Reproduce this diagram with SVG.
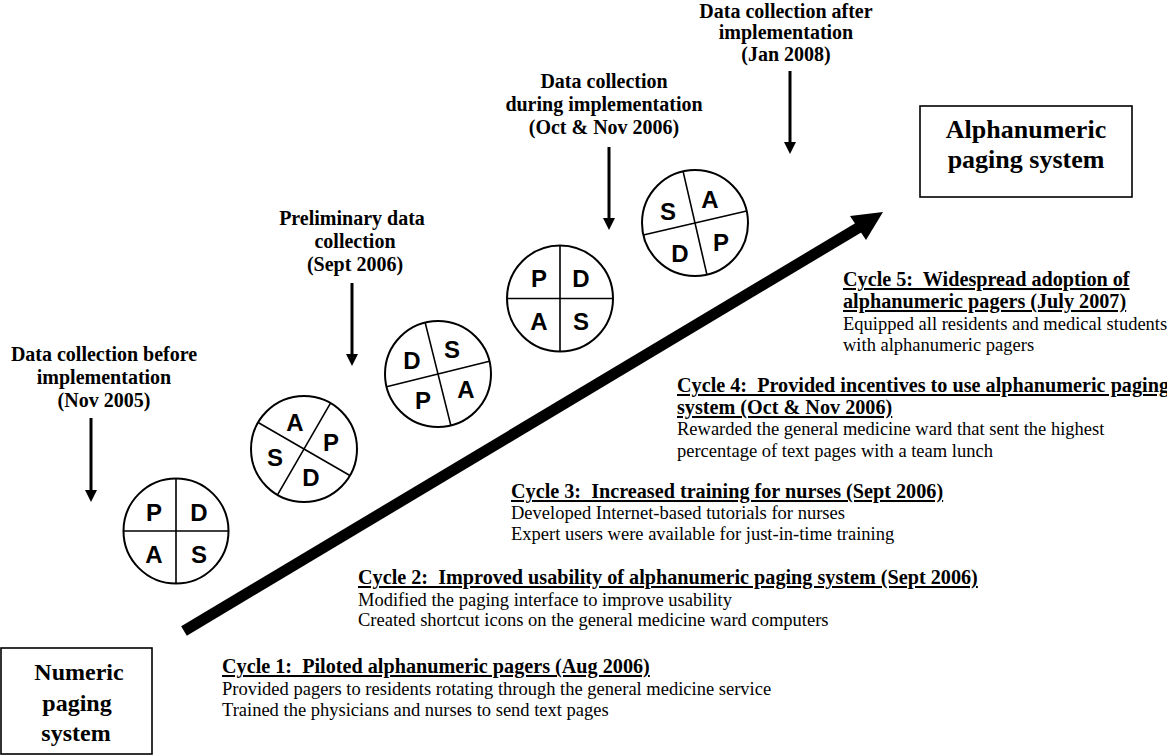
<svg xmlns="http://www.w3.org/2000/svg" width="1167" height="755" viewBox="0 0 1167 755">
<style>
.bg{fill:#fff}
.box{fill:#fff;stroke:#000;stroke-width:1.6}
.boxt{font-family:"Liberation Serif","Times New Roman",Times,serif;font-weight:bold;fill:#000;text-anchor:middle}
.lbl{font-family:"Liberation Serif","Times New Roman",Times,serif;font-weight:bold;font-size:20px;fill:#000;text-anchor:middle}
.hd{font-family:"Liberation Serif","Times New Roman",Times,serif;font-weight:bold;font-size:20.2px;fill:#000;text-decoration:underline;white-space:pre}
.bd{font-family:"Liberation Serif","Times New Roman",Times,serif;font-size:18.5px;fill:#000;white-space:pre}
.ring{fill:#fff;stroke:#000;stroke-width:2}
.cross{stroke:#000;stroke-width:1.6;fill:none}
.let{font-family:"Liberation Sans",Arial,sans-serif;font-weight:bold;font-size:24px;fill:#000;text-anchor:middle}
.down{stroke:#000;stroke-width:3;fill:none}
.main{stroke:#000;stroke-width:11;fill:none}
</style>
<defs>
<marker id="ah" markerUnits="userSpaceOnUse" markerWidth="12" markerHeight="12" refX="5" refY="6" orient="auto">
<path d="M0,0 L12,6 L0,12 Z" fill="#000"/>
</marker>
</defs>
<rect class="bg" x="0" y="0" width="1167" height="755"/>

<g id="numeric-box">
<rect class="box" x="1" y="648" width="151" height="106"/>
<text class="boxt" font-size="24" x="79" y="680">Numeric</text>
<text class="boxt" font-size="24" x="77" y="711">paging</text>
<text class="boxt" font-size="24" x="76" y="741">system</text>
</g>

<g id="alpha-box">
<rect class="box" x="920" y="106" width="212" height="91"/>
<text class="boxt" font-size="26" x="1026" y="138">Alphanumeric</text>
<text class="boxt" font-size="26" x="1026" y="168">paging system</text>
</g>

<g id="label-nov2005">
<text class="lbl" x="104" y="361">Data collection before</text>
<text class="lbl" x="104" y="384">implementation</text>
<text class="lbl" x="104" y="407">(Nov 2005)</text>
</g>
<g id="label-sept2006">
<text class="lbl" x="352" y="225">Preliminary data</text>
<text class="lbl" x="355" y="248">collection</text>
<text class="lbl" x="355" y="271">(Sept 2006)</text>
</g>
<g id="label-octnov2006">
<text class="lbl" x="604" y="88">Data collection</text>
<text class="lbl" x="604" y="111">during implementation</text>
<text class="lbl" x="604" y="134">(Oct &amp; Nov 2006)</text>
</g>
<g id="label-jan2008">
<text class="lbl" x="786" y="18">Data collection after</text>
<text class="lbl" x="786" y="39">implementation</text>
<text class="lbl" x="786" y="61">(Jan 2008)</text>
</g>

<g id="pdsa1">
<circle class="ring" cx="176" cy="531" r="52.5"/>
<g transform="translate(176,531)"><path class="cross" d="M0,-52.5 V52.5 M-52.5,0 H52.5"/></g>
<text class="let" x="154" y="521">P</text>
<text class="let" x="199" y="521">D</text>
<text class="let" x="154" y="563">A</text>
<text class="let" x="199" y="563">S</text>
</g>

<g id="pdsa2">
<circle class="ring" cx="304" cy="449" r="53"/>
<g transform="translate(304,449) rotate(30)"><path class="cross" d="M0,-53 V53 M-53,0 H53"/></g>
<text class="let" x="295" y="431">A</text>
<text class="let" x="331" y="451">P</text>
<text class="let" x="311" y="486">D</text>
<text class="let" x="275" y="466">S</text>
</g>

<g id="pdsa3">
<circle class="ring" cx="438" cy="374" r="53"/>
<g transform="translate(438,374) rotate(-14)"><path class="cross" d="M0,-53 V53 M-53,0 H53"/></g>
<text class="let" x="412" y="369">D</text>
<text class="let" x="452" y="358">S</text>
<text class="let" x="466" y="398">A</text>
<text class="let" x="423" y="409">P</text>
</g>

<g id="pdsa4">
<circle class="ring" cx="560" cy="298.5" r="53"/>
<g transform="translate(560,298.5)"><path class="cross" d="M0,-53 V53 M-53,0 H53"/></g>
<text class="let" x="539" y="287">P</text>
<text class="let" x="581" y="287">D</text>
<text class="let" x="539" y="330">A</text>
<text class="let" x="581" y="330">S</text>
</g>

<g id="pdsa5">
<circle class="ring" cx="695" cy="223" r="53"/>
<g transform="translate(695,223) rotate(-13)"><path class="cross" d="M0,-53 V53 M-53,0 H53"/></g>
<text class="let" x="668" y="220">S</text>
<text class="let" x="710" y="208">A</text>
<text class="let" x="721" y="251">P</text>
<text class="let" x="680" y="262">D</text>
</g>

<g id="cycle1">
<text class="hd" x="222" y="673">Cycle 1:  Piloted alphanumeric pagers (Aug 2006)</text>
<text class="bd" x="222" y="695">Provided pagers to residents rotating through the general medicine service</text>
<text class="bd" x="222" y="716">Trained the physicians and nurses to send text pages</text>
</g>
<g id="cycle2">
<text class="hd" x="358" y="584">Cycle 2:  Improved usability of alphanumeric paging system (Sept 2006)</text>
<text class="bd" x="358" y="606">Modified the paging interface to improve usability</text>
<text class="bd" x="358" y="626">Created shortcut icons on the general medicine ward computers</text>
</g>
<g id="cycle3">
<text class="hd" x="511" y="498">Cycle 3:  Increased training for nurses (Sept 2006)</text>
<text class="bd" x="511" y="519">Developed Internet-based tutorials for nurses</text>
<text class="bd" x="511" y="540">Expert users were available for just-in-time training</text>
</g>
<g id="cycle4">
<text class="hd" x="677" y="392">Cycle 4:  Provided incentives to use alphanumeric paging</text>
<text class="hd" x="677" y="414">system (Oct &amp; Nov 2006)</text>
<text class="bd" x="677" y="435">Rewarded the general medicine ward that sent the highest</text>
<text class="bd" x="677" y="457">percentage of text pages with a team lunch</text>
</g>
<g id="cycle5">
<text class="hd" x="843" y="286">Cycle 5:  Widespread adoption of</text>
<text class="hd" x="843" y="308">alphanumeric pagers (July 2007)</text>
<text class="bd" x="843" y="330">Equipped all residents and medical students</text>
<text class="bd" x="843" y="351">with alphanumeric pagers</text>
</g>

<g id="connectors">
<line class="down" x1="91" y1="418" x2="91" y2="495" marker-end="url(#ah)"/>
<line class="down" x1="352" y1="283" x2="352" y2="359" marker-end="url(#ah)"/>
<line class="down" x1="609" y1="147" x2="609" y2="223" marker-end="url(#ah)"/>
<line class="down" x1="790" y1="71" x2="790" y2="147" marker-end="url(#ah)"/>
<line class="main" x1="184" y1="631" x2="863" y2="225"/>
<polygon points="883,212 850,216 866,240" fill="#000"/>
</g>
</svg>
